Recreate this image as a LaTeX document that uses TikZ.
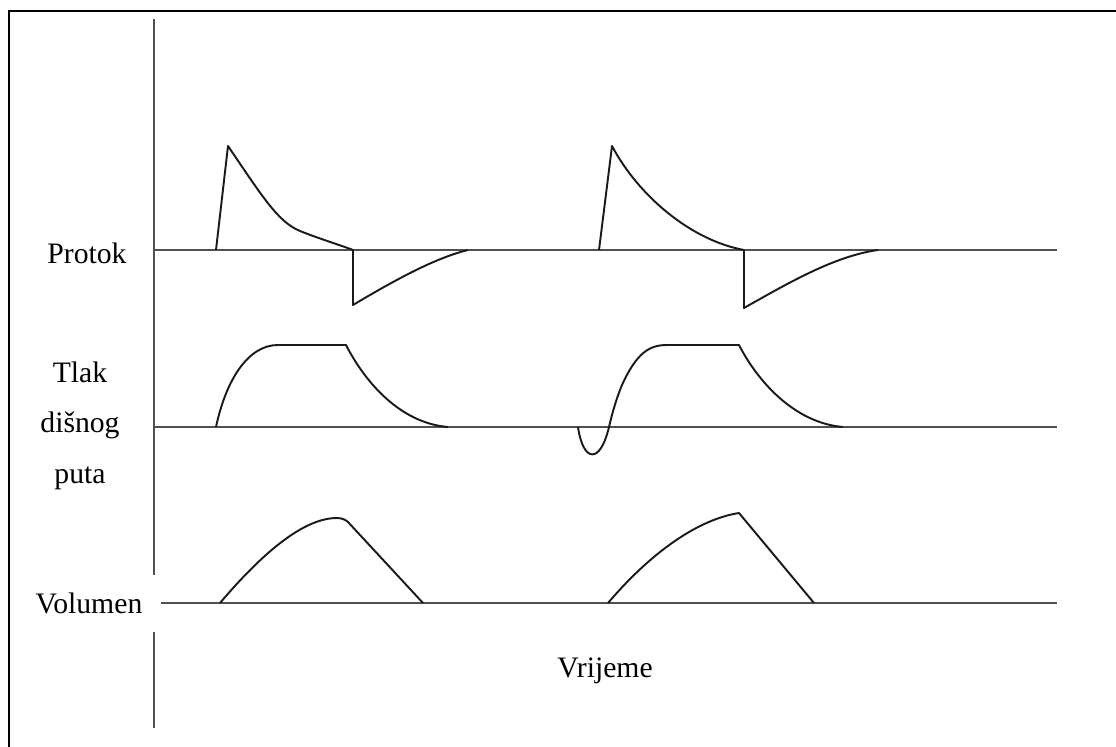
\documentclass[tikz,border=0pt]{standalone}
\usepackage{fontspec}
\setmainfont{Liberation Serif}
\usepackage{tikz}
\definecolor{ventgray}{HTML}{505050}
\definecolor{ventline}{HTML}{1A1A1A}

\begin{document}
\begin{tikzpicture}[x=0.02cm, y=-0.02cm,
  baseline axis/.style={line width=1.5pt, ventgray},
  wave/.style={line width=1.1pt, ventline, line join=round},
  lbl/.style={font=\fontsize{16.9}{20}\selectfont, inner sep=0pt}]
\useasboundingbox (0,0) rectangle (1116,747);

% frame
\draw[line width=1.1pt] (9,760) -- (9,11) -- (1130,11);

% time axis
\draw[baseline axis, line width=1.7pt] (154,19) -- (154,728);

% labels
\node[lbl, anchor=base] (protok) at (87,263) {Protok};
\node[lbl, anchor=base] (tlak) at (80,382) {Tlak};
\node[lbl, anchor=base] (disnog) at (80,432) {dišnog};
\node[lbl, anchor=base] (puta) at (80,483) {puta};
\node[lbl, fill=white, minimum width=2.88cm, minimum height=1.14cm] (vol) at (89,603) {Volumen};
\node[lbl, anchor=base] (vrijeme) at (605,677) {Vrijeme};

% baselines
\draw[baseline axis] (154,250) -- (1057,250);
\draw[baseline axis] (154,427) -- (1057,427);
\draw[baseline axis] (vol.east) -- (1057,603);

% flow
\draw[wave] (216,250) -- (228,146) .. controls (262,196) and (278,222) .. (300,231)
  .. controls (320,239) and (340,245) .. (353,250) -- (353,305)
  .. controls (395,280) and (435,258) .. (468,250);
\draw[wave] (599,250) -- (612,146) .. controls (638,195) and (690,240) .. (744,250)
  -- (744,308) .. controls (790,282) and (835,256) .. (878,250);

% airway pressure
\draw[wave] (216,427) .. controls (226,380) and (248,345) .. (278,345) -- (346,345)
  .. controls (365,382) and (400,423) .. (448,427);
\draw[wave] (578,427) .. controls (583,462) and (600,465) .. (609,427)
  .. controls (613,410) and (617,397) .. (622,385)
  .. controls (637,352) and (650,345) .. (667,345) -- (739,345)
  .. controls (758,382) and (795,423) .. (843,427);

% volume
\draw[wave] (220,603) .. controls (265,550) and (305,518) .. (337,518)
  .. controls (342,518) and (346,520) .. (348,522) -- (423,603);
\draw[wave] (608,603) .. controls (648,556) and (695,520) .. (739,513) -- (814,603);
\end{tikzpicture}
\end{document}
